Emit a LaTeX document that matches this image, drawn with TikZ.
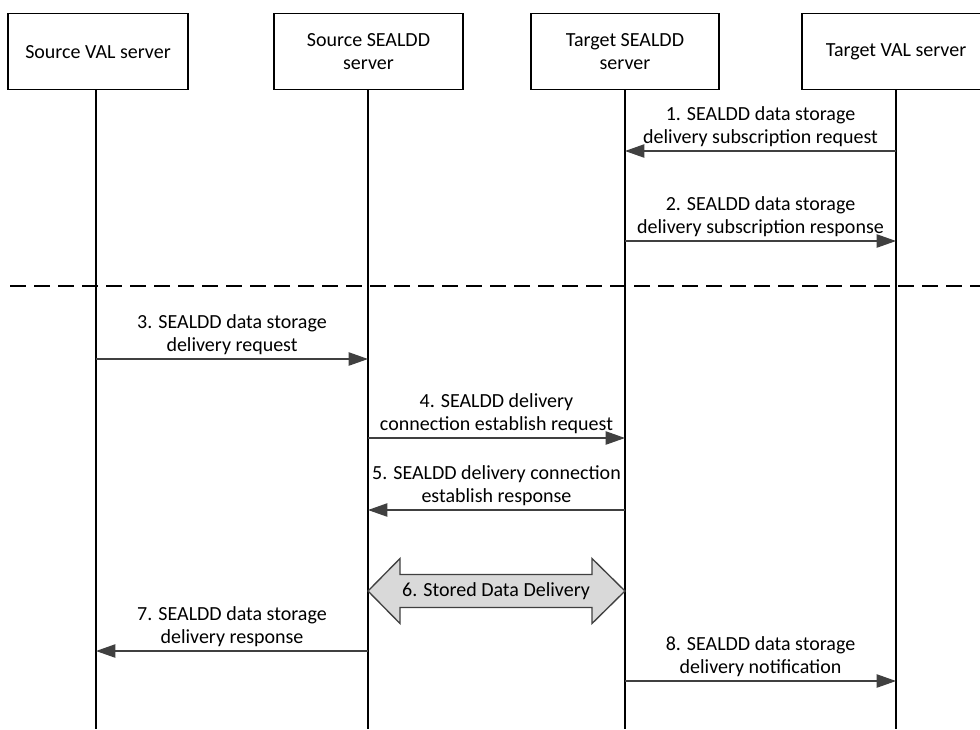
\documentclass[tikz,border=0pt]{standalone}
\usepackage{fontspec}
\setmainfont{Carlito}
\usetikzlibrary{arrows.meta,calc}
\definecolor{arr}{HTML}{404040}
\definecolor{dfill}{HTML}{D9D9D9}
\begin{document}
\begin{tikzpicture}[x=0.75pt,y=-0.75pt,
  every node/.style={font=\fontsize{15}{17.25}\selectfont},
  entity/.style={draw=black,line width=1pt,minimum width=180*0.75pt,minimum height=76*0.75pt,inner sep=2pt,align=center,anchor=north},
  lifeline/.style={draw=black,line width=1pt},
  msg/.style={draw=arr,line width=0.9pt,-{Triangle[length=14.5pt,width=10pt]}},
  lbl/.style={align=center,inner sep=3pt,above},
  sep/.style={draw=black,line width=1.6pt,dash pattern=on 12pt off 6pt}]
\useasboundingbox (0,0) rectangle (980,729);
% entities
\node[entity] (SV) at (98,13) {Source VAL server};
\node[entity,minimum width=189*0.75pt] (SS) at (368.5,13) {Source SEALDD\\server};
\node[entity,minimum width=188*0.75pt] (TS) at (625,13) {Target SEALDD\\server};
\node[entity,minimum width=188*0.75pt] (TV) at (896,13) {Target VAL server};
% lifeline ends
\coordinate (SVe) at (96,729);
\coordinate (SSe) at (368,729);
\coordinate (TSe) at (625,729);
\coordinate (TVe) at (896,729);
\draw[lifeline] (SV.south -| SVe) -- (SVe);
\draw[lifeline] (SS.south -| SSe) -- (SSe);
\draw[lifeline] (TS.south -| TSe) -- (TSe);
\draw[lifeline] (TV.south -| TVe) -- (TVe);
% separator
\coordinate (dl) at (10,286);
\coordinate (dr) at (980,286);
\draw[sep] (dl) -- (dr);
% messages
\draw[msg] (TVe |- 0,151) -- node[lbl] {1. SEALDD data storage\\delivery subscription request} (TSe |- 0,151);
\draw[msg] (TSe |- 0,241) -- node[lbl] {2. SEALDD data storage\\delivery subscription response} (TVe |- 0,241);
\draw[msg] (SVe |- 0,359) -- node[lbl] {3. SEALDD data storage\\delivery request} (SSe |- 0,359);
\draw[msg] (SSe |- 0,438) -- node[lbl] {4. SEALDD delivery\\connection establish request} (TSe |- 0,438);
\draw[msg] (TSe |- 0,510) -- node[lbl] {5. SEALDD delivery connection\\establish response} (SSe |- 0,510);
% double arrow 6
\node[inner sep=0pt] (d6) at (496,591) {\phantom{6. Stored Data Delivery}};
\draw[draw=arr,line width=1pt,fill=dfill]
  (SSe |- d6) -- ++(32,-32.5) -- ++(0,16) -- ($(TSe |- d6)+(-33,-16.5)$) -- ++(0,-16) -- (TSe |- d6)
  -- ++(-33,32.5) -- ++(0,-16) -- ($(SSe |- d6)+(32,16.5)$) -- ++(0,16) -- cycle;
\node[inner sep=0pt] (d6t) at (d6) {6. Stored Data Delivery};
\draw[msg] (SSe |- 0,651) -- node[lbl] {7. SEALDD data storage\\delivery response} (SVe |- 0,651);
\draw[msg] (TSe |- 0,681) -- node[lbl] {8. SEALDD data storage\\delivery notification} (TVe |- 0,681);
\end{tikzpicture}
\end{document}
